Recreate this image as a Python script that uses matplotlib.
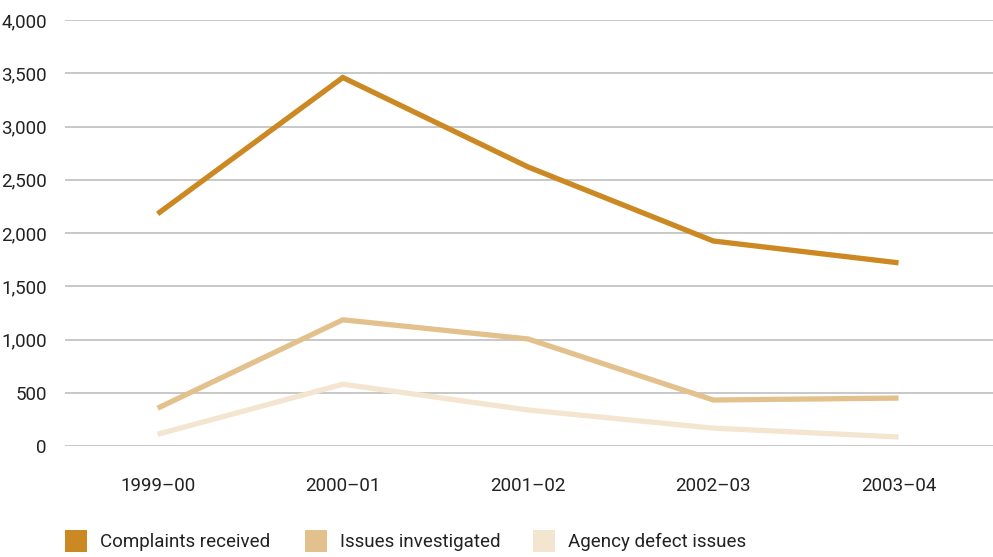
import matplotlib.pyplot as plt
from matplotlib.patches import Rectangle
from matplotlib.ticker import FuncFormatter

years = ["1999–00", "2000–01", "2001–02", "2002–03", "2003–04"]
complaints = [2180, 3460, 2620, 1925, 1720]
investigated = [355, 1185, 1005, 432, 450]
agency = [110, 580, 338, 168, 85]

names = ["Complaints received", "Issues investigated", "Agency defect issues"]
colors = ["#CC8822", "#E3C18D", "#F4E5D1"]

plt.rcParams["font.family"] = ["Roboto", "DejaVu Sans"]

W, H = 993, 557
fig = plt.figure(figsize=(W / 100, H / 100), dpi=100)
ax = fig.add_axes([65 / W, 1 - 446 / H, 1 - 65 / W, 426 / H])

x = range(len(years))
for vals, c in zip([agency, investigated, complaints], colors[::-1]):
    ax.plot(x, vals, color=c, linewidth=3.8, solid_joinstyle="miter", solid_capstyle="butt")

ax.set_ylim(0, 4000)
ax.set_xlim(-0.5, 4.51)
ax.set_yticks(range(0, 4001, 500))
ax.yaxis.set_major_formatter(FuncFormatter(lambda v, p: f"{int(v):,}"))
ax.set_xticks(list(x))
ax.set_xticklabels(years)
ax.grid(axis="y", color="#c4c4c4", linewidth=1.3)
ax.set_axisbelow(True)
for s in ax.spines.values():
    s.set_visible(False)
ax.tick_params(length=0, labelsize=13.5, colors="#222222")
ax.tick_params(axis="y", pad=13)
ax.tick_params(axis="x", pad=22)

# legend: squares + labels along the bottom
for left, name, c in zip([65, 305, 533], names, colors):
    fig.add_artist(Rectangle((left / W, 1 - 552 / H), 22 / W, 22 / H,
                             transform=fig.transFigure, facecolor=c, edgecolor="none"))
    fig.text((left + 35) / W, 1 - 542 / H, name, fontsize=13.5, color="#222222", va="center")

fig.savefig("out.png", dpi=100)
